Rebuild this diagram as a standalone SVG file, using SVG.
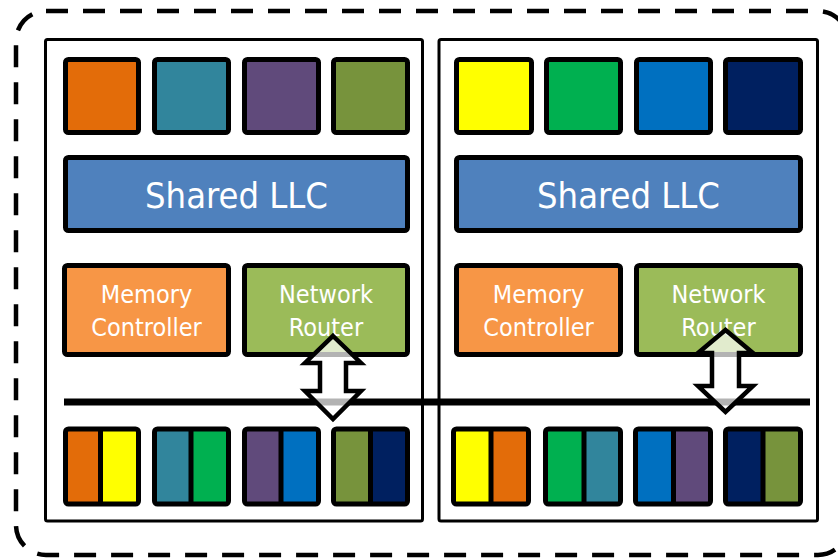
<svg xmlns="http://www.w3.org/2000/svg" width="838" height="559" viewBox="0 0 838 559">
  <style>
    .frame { fill: none; stroke: #000; stroke-width: 5; }
    .blk { stroke: #000; stroke-width: 5; stroke-linejoin: round; }
    .panel { fill: #fff; stroke: #000; stroke-width: 3; }
    .div { stroke: #000; stroke-width: 5; }
    .lbl { font-family: "DejaVu Sans Condensed", "DejaVu Sans", sans-serif; font-stretch: condensed; fill: #fff; text-anchor: middle; }
    .big { font-size: 36px; }
    .small { font-size: 25px; }
    .bus { stroke: #000; stroke-width: 7; }
    .arrow { fill: #fff; fill-opacity: 0.7; stroke: #000; stroke-width: 4.5; stroke-linejoin: miter; }
  </style>

  <!-- outer chip boundary -->
  <rect id="chip" x="16" y="11" width="832" height="544" rx="30" fill="none" stroke="#000" stroke-width="4.5" stroke-dasharray="22 15"/>

  <!-- socket panels -->
  <rect id="socket-left" class="panel" x="45.5" y="39.5" width="377" height="481.5" rx="2"/>
  <rect id="socket-right" class="panel" x="439" y="39.5" width="378.5" height="481.5" rx="2"/>

  <!-- cores, left socket -->
  <g id="core-l1"><rect class="blk" x="65.5" y="59.5" width="73" height="73" rx="3" fill="#E36C09"/></g>
  <g id="core-l2"><rect class="blk" x="154.5" y="59.5" width="74" height="73" rx="3" fill="#31859C"/></g>
  <g id="core-l3"><rect class="blk" x="244.5" y="59.5" width="74" height="73" rx="3" fill="#604A7B"/></g>
  <g id="core-l4"><rect class="blk" x="333.5" y="59.5" width="74" height="73" rx="3" fill="#77933C"/></g>

  <!-- cores, right socket -->
  <g id="core-r1"><rect class="blk" x="456.5" y="59.5" width="75" height="73" rx="3" fill="#FFFF00"/></g>
  <g id="core-r2"><rect class="blk" x="546.5" y="59.5" width="74" height="73" rx="3" fill="#00B050"/></g>
  <g id="core-r3"><rect class="blk" x="636.5" y="59.5" width="74" height="73" rx="3" fill="#0070C0"/></g>
  <g id="core-r4"><rect class="blk" x="725.5" y="59.5" width="75" height="73" rx="3" fill="#002060"/></g>

  <!-- shared last-level caches -->
  <g id="llc-left">
    <rect class="blk" x="65.5" y="157.5" width="342" height="73" rx="3" fill="#4F81BD"/>
    <text class="lbl big" x="236.5" y="208">Shared LLC</text>
  </g>
  <g id="llc-right">
    <rect class="blk" x="456.5" y="157.5" width="344" height="73" rx="3" fill="#4F81BD"/>
    <text class="lbl big" x="628.5" y="208">Shared LLC</text>
  </g>

  <!-- memory controllers -->
  <g id="mc-left">
    <rect class="blk" x="64.5" y="265.5" width="164" height="89" rx="3" fill="#F79646"/>
    <text class="lbl small" x="146.5" y="303">Memory</text>
    <text class="lbl small" x="146.5" y="335.5">Controller</text>
  </g>
  <g id="mc-right">
    <rect class="blk" x="456.5" y="265.5" width="164" height="89" rx="3" fill="#F79646"/>
    <text class="lbl small" x="538.5" y="303">Memory</text>
    <text class="lbl small" x="538.5" y="335.5">Controller</text>
  </g>

  <!-- network routers -->
  <g id="router-left">
    <rect class="blk" x="244.5" y="265.5" width="163" height="89" rx="3" fill="#9BBB59"/>
    <text class="lbl small" x="326" y="303">Network</text>
    <text class="lbl small" x="326" y="335.5">Router</text>
  </g>
  <g id="router-right">
    <rect class="blk" x="636.5" y="265.5" width="164" height="89" rx="3" fill="#9BBB59"/>
    <text class="lbl small" x="718.5" y="303">Network</text>
    <text class="lbl small" x="718.5" y="335.5">Router</text>
  </g>

  <!-- memory banks, left socket (two halves each) -->
  <g id="bank-l1">
    <rect x="65.5" y="429" width="35" height="75" fill="#E36C09"/><rect x="100.5" y="429" width="38" height="75" fill="#FFFF00"/>
    <rect class="frame" x="65.5" y="429" width="73" height="75" rx="3"/><line class="div" x1="100.5" y1="429" x2="100.5" y2="504"/>
  </g>
  <g id="bank-l2">
    <rect x="154.5" y="429" width="36.5" height="75" fill="#31859C"/><rect x="191" y="429" width="37.5" height="75" fill="#00B050"/>
    <rect class="frame" x="154.5" y="429" width="74" height="75" rx="3"/><line class="div" x1="191" y1="429" x2="191" y2="504"/>
  </g>
  <g id="bank-l3">
    <rect x="244.5" y="429" width="36.5" height="75" fill="#604A7B"/><rect x="281" y="429" width="37.5" height="75" fill="#0070C0"/>
    <rect class="frame" x="244.5" y="429" width="74" height="75" rx="3"/><line class="div" x1="281" y1="429" x2="281" y2="504"/>
  </g>
  <g id="bank-l4">
    <rect x="333.5" y="429" width="37" height="75" fill="#77933C"/><rect x="370.5" y="429" width="37" height="75" fill="#002060"/>
    <rect class="frame" x="333.5" y="429" width="74" height="75" rx="3"/><line class="div" x1="370.5" y1="429" x2="370.5" y2="504"/>
  </g>

  <!-- memory banks, right socket -->
  <g id="bank-r1">
    <rect x="453.5" y="429" width="37.5" height="75" fill="#FFFF00"/><rect x="491" y="429" width="37.5" height="75" fill="#E36C09"/>
    <rect class="frame" x="453.5" y="429" width="75" height="75" rx="3"/><line class="div" x1="491" y1="429" x2="491" y2="504"/>
  </g>
  <g id="bank-r2">
    <rect x="545.5" y="429" width="38.5" height="75" fill="#00B050"/><rect x="584" y="429" width="36.5" height="75" fill="#31859C"/>
    <rect class="frame" x="545.5" y="429" width="75" height="75" rx="3"/><line class="div" x1="584" y1="429" x2="584" y2="504"/>
  </g>
  <g id="bank-r3">
    <rect x="635.5" y="429" width="38" height="75" fill="#0070C0"/><rect x="673.5" y="429" width="37" height="75" fill="#604A7B"/>
    <rect class="frame" x="635.5" y="429" width="75" height="75" rx="3"/><line class="div" x1="673.5" y1="429" x2="673.5" y2="504"/>
  </g>
  <g id="bank-r4">
    <rect x="725.5" y="429" width="37.5" height="75" fill="#002060"/><rect x="763" y="429" width="37.5" height="75" fill="#77933C"/>
    <rect class="frame" x="725.5" y="429" width="75" height="75" rx="3"/><line class="div" x1="763" y1="429" x2="763" y2="504"/>
  </g>

  <!-- interconnect: shared bus and router links -->
  <g id="connectors">
    <line class="bus" x1="64" y1="402" x2="810" y2="402"/>
    <path class="arrow" d="M333,336 L361,363 L346,363 L346,391 L361,391 L333,419 L305,391 L320,391 L320,363 L305,363 Z"/>
    <path class="arrow" d="M725.5,330 L753,353 L739,353 L739,386 L753,386 L725.5,412 L698,386 L712,386 L712,353 L698,353 Z"/>
  </g>
</svg>
